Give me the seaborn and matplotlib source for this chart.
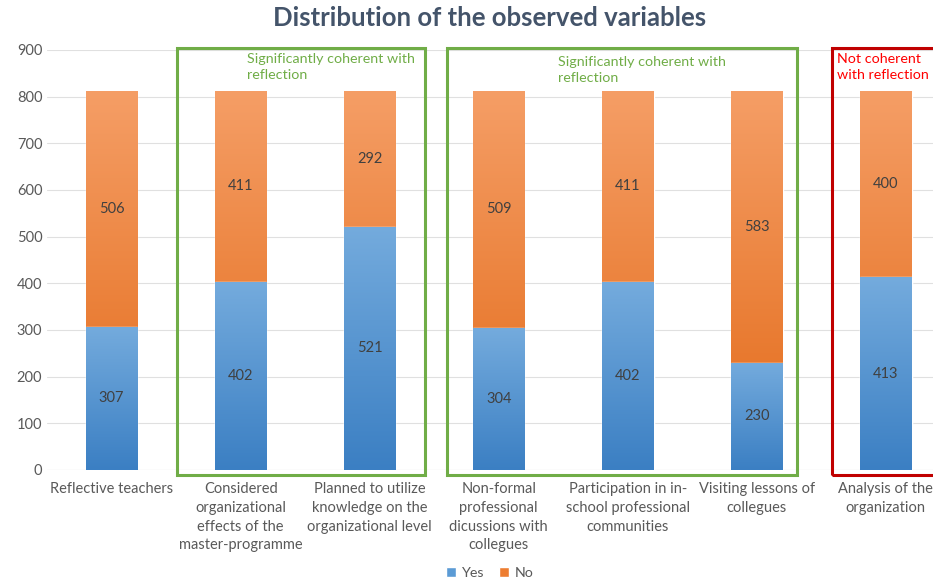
import numpy as np
import pandas as pd
import matplotlib
matplotlib.use("Agg")
import matplotlib.pyplot as plt
import matplotlib.colors as mcolors
from matplotlib.patches import Rectangle, Patch
import seaborn as sns

categories = [
    "Reflective teachers",
    "Considered\norganizational\neffects of the\nmaster-programme",
    "Planned to utilize\nknowledge on the\norganizational level",
    "Non-formal\nprofessional\ndicussions with\ncollegues",
    "Participation in in-\nschool professional\ncommunities",
    "Visiting lessons of\ncollegues",
    "Analysis of the\norganization",
]
yes_values = [307, 402, 521, 304, 402, 230, 413]
no_values = [506, 411, 292, 509, 411, 583, 400]
y_ticks = [0, 100, 200, 300, 400, 500, 600, 700, 800, 900]

sns.set_theme(style="white")
plt.rcParams["font.family"] = ["Lato", "DejaVu Sans"]

df = pd.DataFrame({"cat": categories, "Yes": yes_values, "No": no_values})
df["Total"] = df["Yes"] + df["No"]

fig = plt.figure(figsize=(9.33, 5.8), dpi=100)
ax = fig.add_axes([0.0505, 0.1897, 0.968, 0.7241])

blue_top, blue_bot = "#74abdd", "#3b7fc3"
orange_top, orange_bot = "#f59e66", "#e36a18"

sns.barplot(data=df, x="cat", y="Total", color="#ed7d31", saturation=1,
            width=0.4, ax=ax, zorder=2)
sns.barplot(data=df, x="cat", y="Yes", color="#5b9bd5", saturation=1,
            width=0.4, ax=ax, zorder=3)

ax.set_xlim(-0.5, len(categories) - 0.5)
ax.set_ylim(0, 900)
ax.set_yticks(y_ticks)


def grad_fill(patch, ctop, cbot, z):
    x0, y0 = patch.get_x(), patch.get_y()
    w, h = patch.get_width(), patch.get_height()
    cmap = mcolors.LinearSegmentedColormap.from_list("g", [cbot, ctop])
    grad = np.linspace(0, 1, 256).reshape(-1, 1)
    im = ax.imshow(grad, cmap=cmap, aspect="auto", origin="lower",
                   extent=[x0, x0 + w, y0, y0 + h], zorder=z, interpolation="bicubic")
    im.set_clip_path(patch)


for p in ax.containers[0]:
    grad_fill(p, orange_top, orange_bot, 2.5)
for p in ax.containers[1]:
    grad_fill(p, blue_top, blue_bot, 3.5)
ax.set_xlim(-0.5, len(categories) - 0.5)
ax.set_ylim(0, 900)

for i, (y, n) in enumerate(zip(yes_values, no_values)):
    ax.text(i, y / 2, str(y), ha="center", va="center", fontsize=10.5,
            color="#404040", zorder=5)
    ax.text(i, y + n / 2, str(n), ha="center", va="center", fontsize=10.5,
            color="#404040", zorder=5)

ax.yaxis.grid(True, color="#e0e0e0", linewidth=0.8, zorder=0)
ax.set_axisbelow(True)
for s in ax.spines.values():
    s.set_visible(False)
ax.axhline(0, color="#d9d9d9", linewidth=0.8, zorder=1)
ax.set_xlabel("")
ax.set_ylabel("")
ax.tick_params(axis="both", length=0, labelsize=10.5, colors="#595959")
ax.tick_params(axis="x", pad=9)
for t in ax.get_xticklabels():
    t.set_linespacing(1.42)

# group boxes
green = "#70ad47"
red = "#c00000"
ax.add_patch(Rectangle((0.508, -11), 1.922, 915, fill=False, edgecolor=green,
                       linewidth=2.2, clip_on=False, zorder=6))
ax.add_patch(Rectangle((2.60, -11), 2.71, 915, fill=False, edgecolor=green,
                       linewidth=2.2, clip_on=False, zorder=6))
ax.add_patch(Rectangle((5.585, -11), 1.2, 915, fill=False, edgecolor=red,
                       linewidth=2.2, clip_on=False, zorder=6))
ax.text(1.05, 893, "Significantly coherent with\nreflection", ha="left", va="top",
        fontsize=10.3, color=green, zorder=7, linespacing=1.4)
ax.text(3.46, 887, "Significantly coherent with\nreflection", ha="left", va="top",
        fontsize=10.3, color=green, zorder=7, linespacing=1.4)
ax.text(5.62, 893, "Not coherent\nwith reflection", ha="left", va="top",
        fontsize=10.3, color="#ff0000", zorder=7, linespacing=1.4)

fig.suptitle("Distribution of the observed variables", x=0.525, y=0.99,
             fontsize=18.5, fontweight="bold", color="#44546a")

handles = [Patch(facecolor="#5b9bd5", label="Yes"),
           Patch(facecolor="#ed7d31", label="No")]
fig.legend(handles=handles, loc="lower center", ncol=2, frameon=False,
           bbox_to_anchor=(0.525, -0.02), fontsize=10.3, handlelength=0.7,
           handleheight=0.7, columnspacing=1.0, handletextpad=0.4,
           labelcolor="#595959")

fig.savefig("out.png", dpi=100)
